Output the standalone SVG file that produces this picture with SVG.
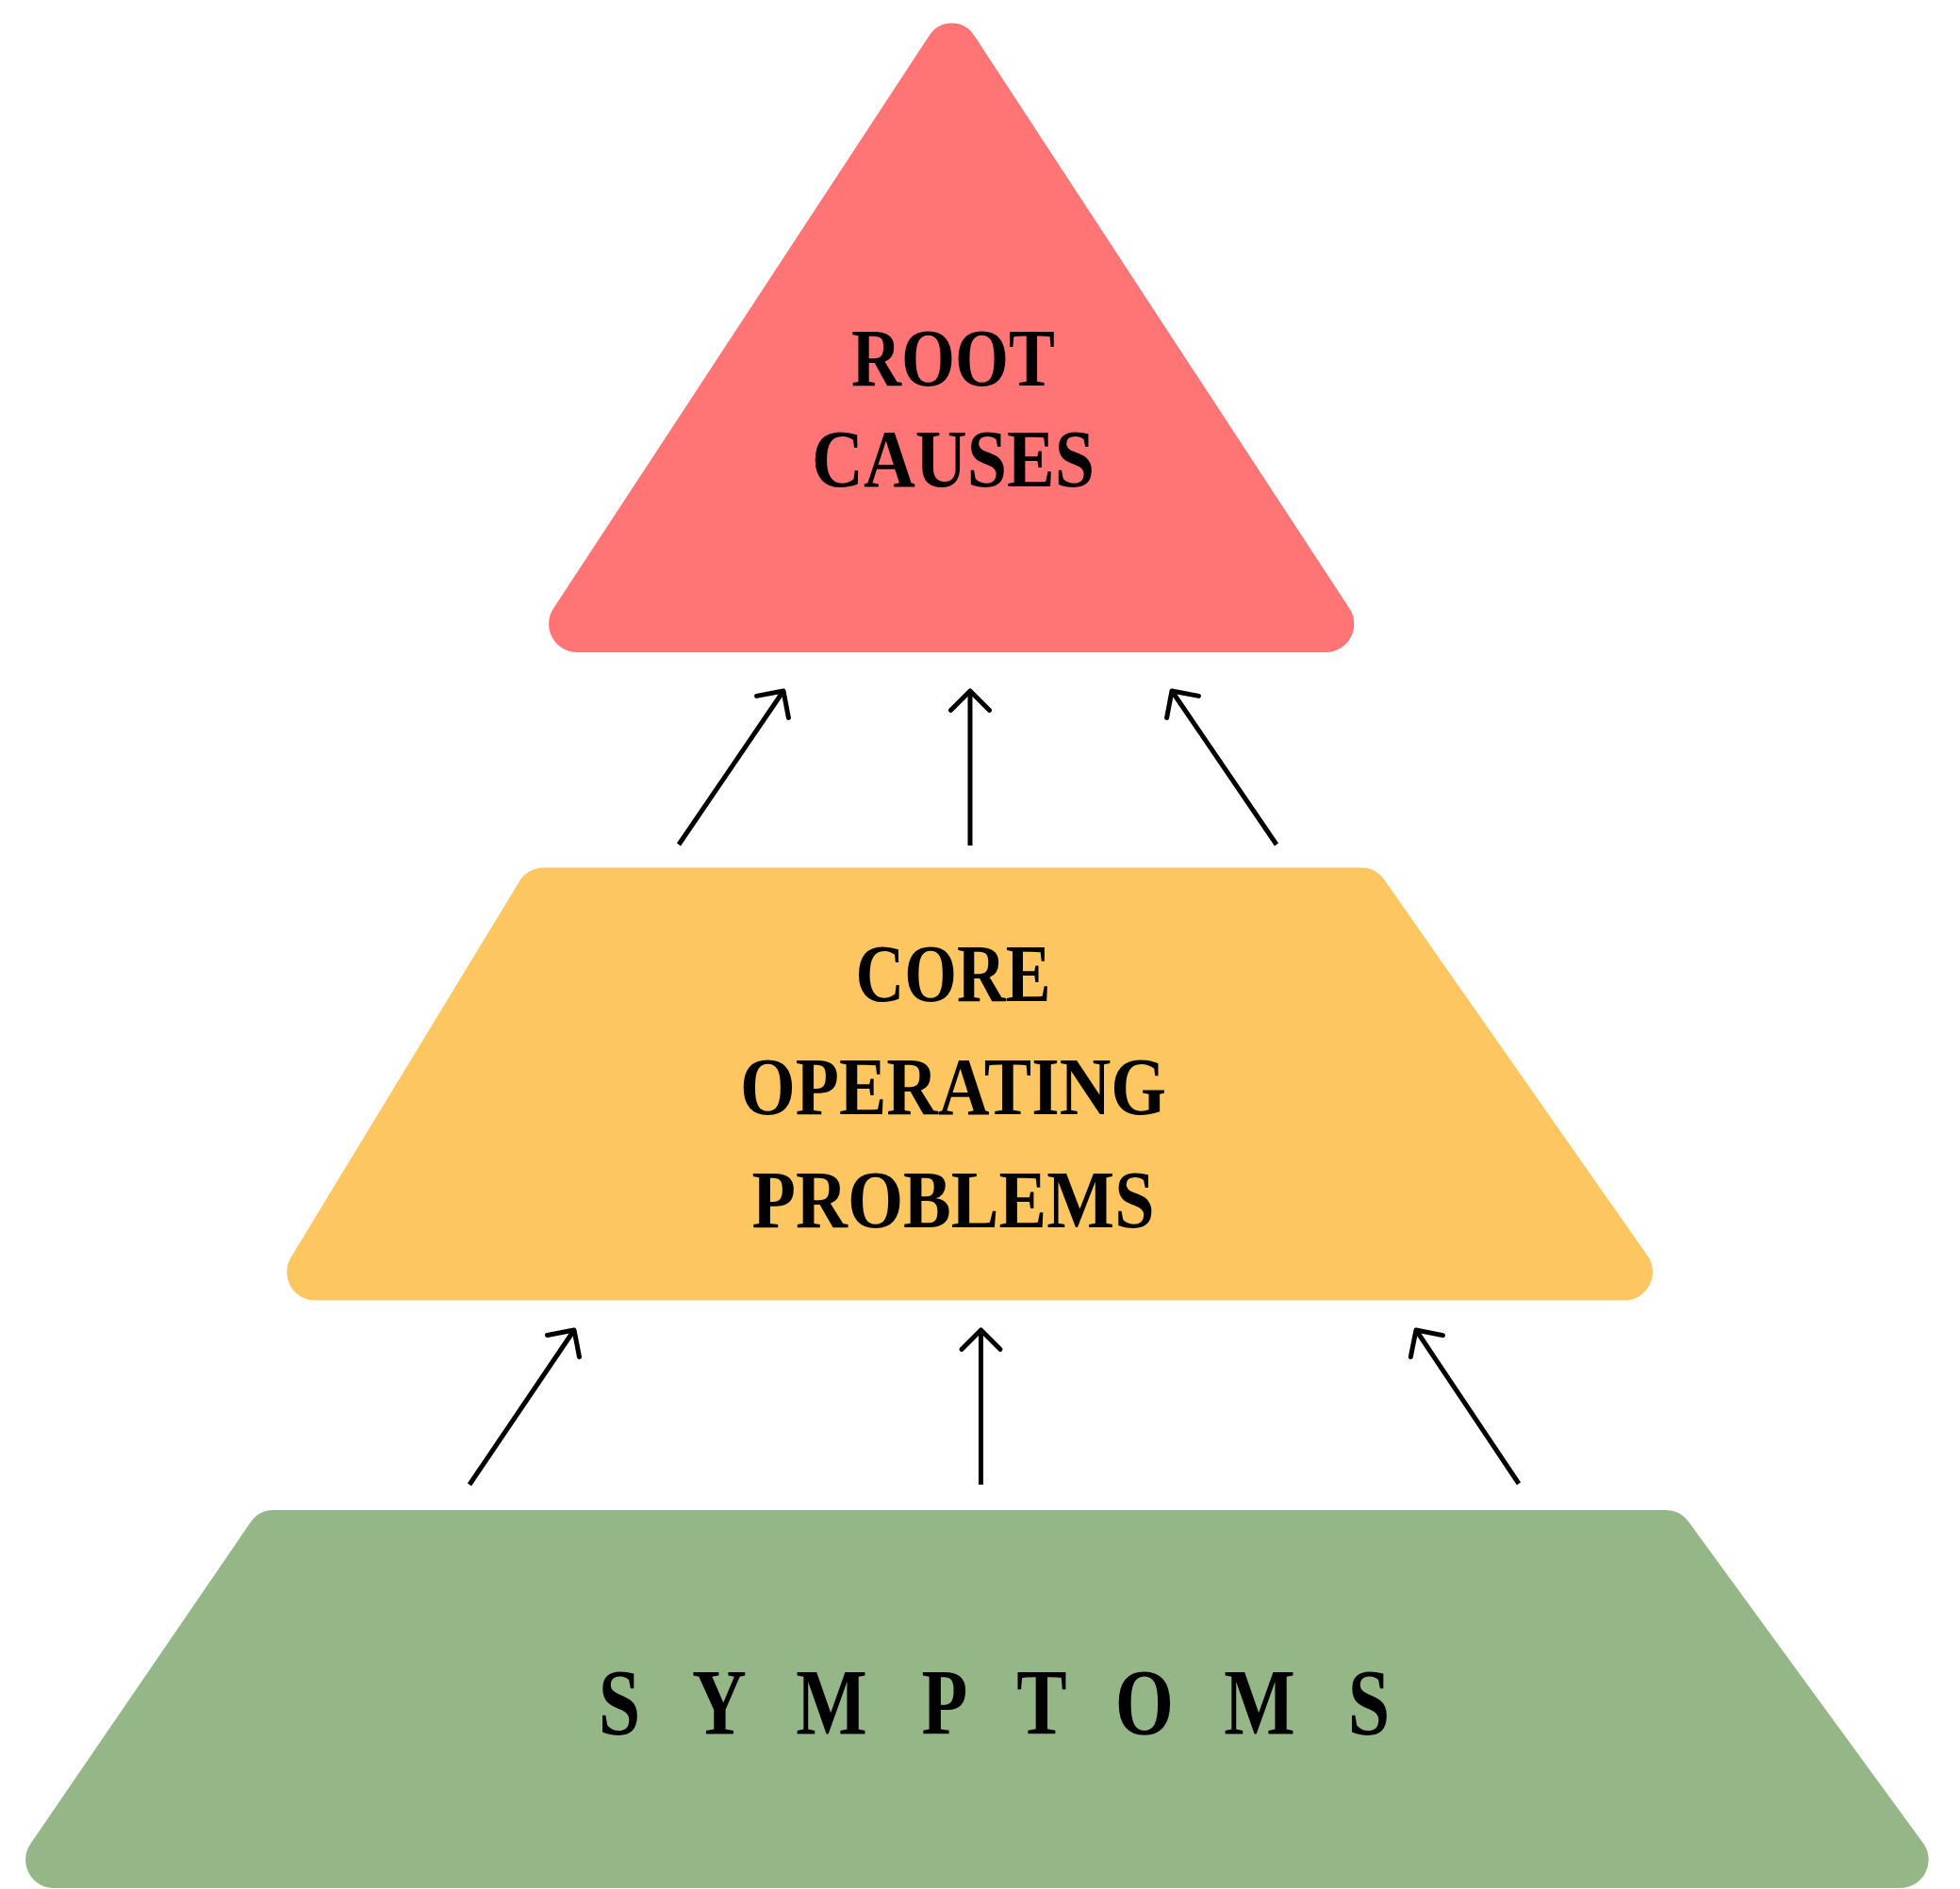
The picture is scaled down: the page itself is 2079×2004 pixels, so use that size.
<svg xmlns="http://www.w3.org/2000/svg" width="2079" height="2004" viewBox="0 0 2079 2004">
  <style>
    .lbl { font-family: "Liberation Serif", "DejaVu Serif", serif; font-weight: bold; fill: #000; text-anchor: middle; }
    .big { font-size: 86px; }
    .sym { font-size: 100px; }
    .conn { stroke: #000; stroke-width: 5; fill: none; marker-end: url(#arrow); }
  </style>
  <defs>
    <marker id="arrow" markerUnits="userSpaceOnUse" orient="auto" refX="0" refY="0" markerWidth="60" markerHeight="60" overflow="visible">
      <path d="M -20.5 -20.5 L 0 0 L -20.5 20.5" fill="none" stroke="#000" stroke-width="5" stroke-linecap="round" stroke-linejoin="round"/>
    </marker>
  </defs>
  <rect width="2079" height="2004" fill="#ffffff"/>

  <g id="root-causes">
    <path d="M 986.1 37 A 28 28 0 0 1 1032.9 37 L 1431.4 645.6 A 30 30 0 0 1 1406.3 692 L 612.1 692 A 30 30 0 0 1 587 645.6 Z" fill="#FF7575"/>
    <text class="lbl big" x="1011" y="408.5" textLength="216" lengthAdjust="spacingAndGlyphs">ROOT</text>
    <text class="lbl big" x="1011" y="516" textLength="300" lengthAdjust="spacingAndGlyphs">CAUSES</text>
  </g>

  <g id="core-operating-problems">
    <path d="M 576.7 920.5 L 1443.75 920.5 A 30 30 0 0 1 1468.3 933.3 L 1747.6 1332.3 A 30 30 0 0 1 1723.05 1379.5 L 334.2 1379.5 A 30 30 0 0 1 308.6 1333.95 L 551 934.9 A 30 30 0 0 1 576.7 920.5 Z" fill="#FEC660"/>
    <text class="lbl big" x="1011" y="1062" textLength="207" lengthAdjust="spacingAndGlyphs">CORE</text>
    <text class="lbl big" x="1011" y="1182" textLength="452" lengthAdjust="spacingAndGlyphs">OPERATING</text>
    <text class="lbl big" x="1011" y="1302" textLength="427" lengthAdjust="spacingAndGlyphs">PROBLEMS</text>
  </g>

  <g id="symptoms">
    <path d="M 290.4 1602 L 1766.8 1602 A 30 30 0 0 1 1791 1614.3 L 2039.9 1955.3 A 30 30 0 0 1 2015.6 2003 L 57.2 2003 A 30 30 0 0 1 32.4 1956 L 265.7 1615 A 30 30 0 0 1 290.4 1602 Z" fill="#95B788"/>
    <text class="lbl sym" transform="scale(0.8,1)" x="821.25 953.75 1102.5 1252.5 1381.25 1517.5 1670 1815" y="1839">SYMPTOMS</text>
  </g>

  <g id="connectors">
    <line class="conn" x1="720" y1="896" x2="831" y2="733"/>
    <line class="conn" x1="1029" y1="897" x2="1029" y2="733"/>
    <line class="conn" x1="1354" y1="896" x2="1243" y2="733"/>
    <line class="conn" x1="498" y1="1575" x2="609" y2="1411"/>
    <line class="conn" x1="1040.5" y1="1575" x2="1040.5" y2="1411"/>
    <line class="conn" x1="1611" y1="1574" x2="1502" y2="1411"/>
  </g>
</svg>
